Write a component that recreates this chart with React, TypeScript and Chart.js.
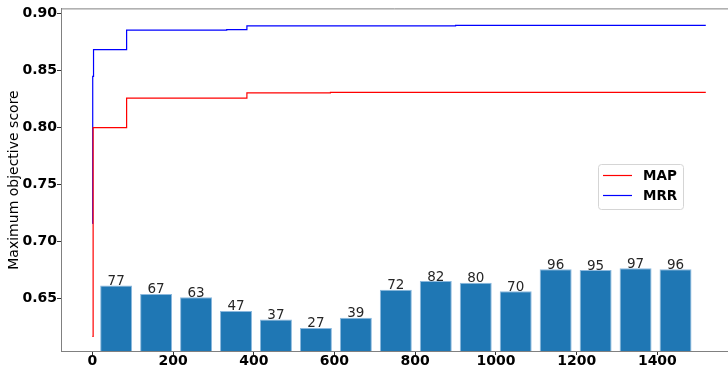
import React, { useEffect, useRef } from "react";
import { Chart, registerables } from "chart.js";

Chart.register(...registerables);

// Step curves (iteration, best score so far)
const mapX = [0, 2, 85, 383, 590, 1520];
const mapY = [0.617, 0.8, 0.826, 0.8305, 0.831, 0.831];
const mrrX = [0, 1, 3, 85, 333, 383, 900, 1520];
const mrrY = [0.716, 0.845, 0.8685, 0.8855, 0.886, 0.8893, 0.8898, 0.8898];

// Histogram bars (position on iteration axis, count)
const barX = [59, 158, 257, 356, 455, 554, 653, 752, 851, 950, 1049, 1148, 1247, 1346, 1445];
const barCounts = [77, 67, 63, 47, 37, 27, 39, 72, 82, 80, 70, 96, 95, 97, 96];

const xTicks = [0, 200, 400, 600, 800, 1000, 1200, 1400];
const yTicks = [0.65, 0.7, 0.75, 0.8, 0.85, 0.9];

const FONT = "'DejaVu Sans', sans-serif";

export default function App() {
  const ref = useRef<HTMLCanvasElement | null>(null);

  useEffect(() => {
    document.body.style.margin = "0";
    const canvas = ref.current!;
    const barLabels = {
      id: "barLabels",
      afterDatasetsDraw(chart: any) {
        const ctx = chart.ctx;
        const meta = chart.getDatasetMeta(2);
        ctx.save();
        ctx.font = `13.5px ${FONT}`;
        ctx.fillStyle = "#262626";
        ctx.textAlign = "center";
        ctx.textBaseline = "alphabetic";
        meta.data.forEach((el: any, i: number) => {
          ctx.fillText(String(barCounts[i]), el.x, el.y - 0.5);
        });
        ctx.restore();
      },
    };
    const decor = {
      id: "decor",
      afterDraw(chart: any) {
        const ctx = chart.ctx;
        const a = chart.chartArea;
        ctx.save();
        // top spine
        ctx.strokeStyle = "#808080";
        ctx.lineWidth = 1;
        ctx.beginPath();
        ctx.moveTo(a.left, a.top + 0.5);
        ctx.lineTo(a.right, a.top + 0.5);
        ctx.stroke();
        // y title
        ctx.translate(14, 180);
        ctx.rotate(-Math.PI / 2);
        ctx.font = `14px ${FONT}`;
        ctx.fillStyle = "#000";
        ctx.textAlign = "center";
        ctx.textBaseline = "middle";
        ctx.fillText("Maximum objective score", 0, 0);
        ctx.restore();

        // legend
        ctx.save();
        const bx = 598.5, by = 164.5, bw = 85, bh = 45, r = 3;
        ctx.fillStyle = "rgba(255,255,255,0.8)";
        ctx.strokeStyle = "#d5d5d5";
        ctx.lineWidth = 1;
        ctx.beginPath();
        ctx.moveTo(bx + r, by);
        ctx.arcTo(bx + bw, by, bx + bw, by + bh, r);
        ctx.arcTo(bx + bw, by + bh, bx, by + bh, r);
        ctx.arcTo(bx, by + bh, bx, by, r);
        ctx.arcTo(bx, by, bx + bw, by, r);
        ctx.closePath();
        ctx.fill();
        ctx.stroke();
        const items = [
          { label: "MAP", color: "#ff0000", y: 175.5 },
          { label: "MRR", color: "#0000ff", y: 195.5 },
        ];
        ctx.font = `bold 13.5px ${FONT}`;
        ctx.textAlign = "left";
        ctx.textBaseline = "middle";
        items.forEach((it) => {
          ctx.strokeStyle = it.color;
          ctx.lineWidth = 1.2;
          ctx.beginPath();
          ctx.moveTo(603, it.y);
          ctx.lineTo(632, it.y);
          ctx.stroke();
          ctx.fillStyle = "#000";
          ctx.fillText(it.label, 643, it.y + 0.5);
        });
        ctx.restore();
      },
    };

    const chart = new Chart(canvas, {
      type: "line",
      data: {
        datasets: [
          {
            label: "MAP",
            data: mapX.map((x, i) => ({ x, y: mapY[i] })),
            borderColor: "#ff0000",
            borderWidth: 1.2,
            pointRadius: 0,
            stepped: "before",
            xAxisID: "x",
            yAxisID: "y",
          },
          {
            label: "MRR",
            data: mrrX.map((x, i) => ({ x, y: mrrY[i] })),
            borderColor: "#0000ff",
            borderWidth: 1.2,
            pointRadius: 0,
            stepped: "before",
            xAxisID: "x",
            yAxisID: "y",
          },
          {
            type: "bar",
            label: "count",
            data: barX.map((x, i) => ({ x, y: barCounts[i] })),
            backgroundColor: "#1f77b4",
            borderColor: "#8cb9de",
            borderWidth: 1,
            barPercentage: 0.8,
            categoryPercentage: 1,
            xAxisID: "x",
            yAxisID: "y2",
          } as any,
        ],
      },
      options: {
        responsive: false,
        animation: false,
        devicePixelRatio: 1,
        layout: { padding: { top: 8, right: 0, bottom: 0, left: 0 } },
        plugins: { legend: { display: false }, tooltip: { enabled: false } },
        scales: {
          x: {
            type: "linear",
            offset: false,
            min: -77.6,
            max: 1575,
            afterBuildTicks: (s: any) => {
              s.ticks = xTicks.map((v) => ({ value: v }));
            },
            afterFit: (s: any) => {
              s.height = 15;
            },
            grid: { offset: false, drawOnChartArea: false, drawTicks: true, tickLength: 4, color: "#333" },
            border: { display: true, color: "#808080", width: 1 },
            ticks: {
              color: "#000",
              padding: -2,
              font: { family: FONT, size: 14, weight: "bold" },
              maxRotation: 0,
              autoSkip: false,
              callback: (v: any) => String(v),
            },
          },
          y: {
            type: "linear",
            position: "left",
            min: 0.6042,
            max: 0.9046,
            afterBuildTicks: (s: any) => {
              s.ticks = yTicks.map((v) => ({ value: v }));
            },
            afterFit: (s: any) => {
              s.width = 61;
            },
            grid: { drawOnChartArea: false, drawTicks: true, tickLength: 4, color: "#333" },
            border: { display: true, color: "#808080", width: 1 },
            ticks: {
              color: "#000",
              padding: 0,
              font: { family: FONT, size: 14, weight: "bold" },
              callback: (v: any) => Number(v).toFixed(2),
            },
          },
          y2: {
            type: "linear",
            display: false,
            min: 0,
            max: 402,
          },
        },
      } as any,
      plugins: [barLabels, decor],
    });
    return () => chart.destroy();
  }, []);

  return (
    <div style={{ width: 728, height: 366 }}>
      <canvas ref={ref} width={728} height={366} />
    </div>
  );
}
